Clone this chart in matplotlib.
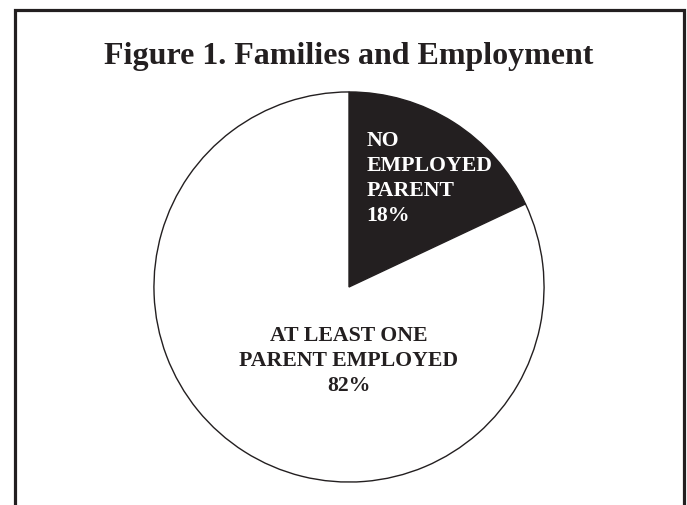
"""Figure 1. Families and Employment - pie chart."""
import matplotlib
matplotlib.use("Agg")
import matplotlib.pyplot as plt
from matplotlib.lines import Line2D

# Data
labels = ["NO\nEMPLOYED\nPARENT\n18%", "AT LEAST ONE\nPARENT EMPLOYED\n82%"]
shares = [18, 82]
colors = ["#231f20", "white"]
title = "Figure 1. Families and Employment"

W, H = 687, 506
plt.rcParams["font.family"] = ["Liberation Serif", "DejaVu Serif"]
fig = plt.figure(figsize=(W / 100, H / 100), dpi=100)
fig.patch.set_facecolor("white")

# frame around the figure (no bottom edge, it is cut off)
ink = "#231f20"
lx, rx, ty = 15 / W, 684 / W, 1 - 11 / H
fig.add_artist(Line2D([lx, lx, rx, rx], [0, ty, ty, 0], transform=fig.transFigure,
                      color=ink, lw=2.3, solid_joinstyle="miter"))

fig.text(349 / W, 1 - 64 / H, title, ha="center", va="baseline",
         fontsize=23, fontweight="bold", color=ink)

# pie axes: centre (349, 288) px, radius 197 px
cx, cy, r = 349, 288, 197
ax = fig.add_axes([(cx - r) / W, 1 - (cy + r) / H, 2 * r / W, 2 * r / H])
ax.pie(shares, colors=colors, startangle=90, counterclock=False, radius=1,
       wedgeprops=dict(edgecolor=ink, linewidth=1.0))
ax.set_xlim(-1.01, 1.01)
ax.set_ylim(-1.01, 1.01)
ax.set_aspect("equal")
ax.axis("off")

ax.text(0.09, 0.56, labels[0], ha="left", va="center", color="white",
        fontsize=15.7, fontweight="bold", linespacing=1.33)
ax.text(0.0, -0.375, labels[1], ha="center", va="center", color=ink,
        fontsize=15.7, fontweight="bold", linespacing=1.33)

fig.savefig("out.png", dpi=100, facecolor="white")
